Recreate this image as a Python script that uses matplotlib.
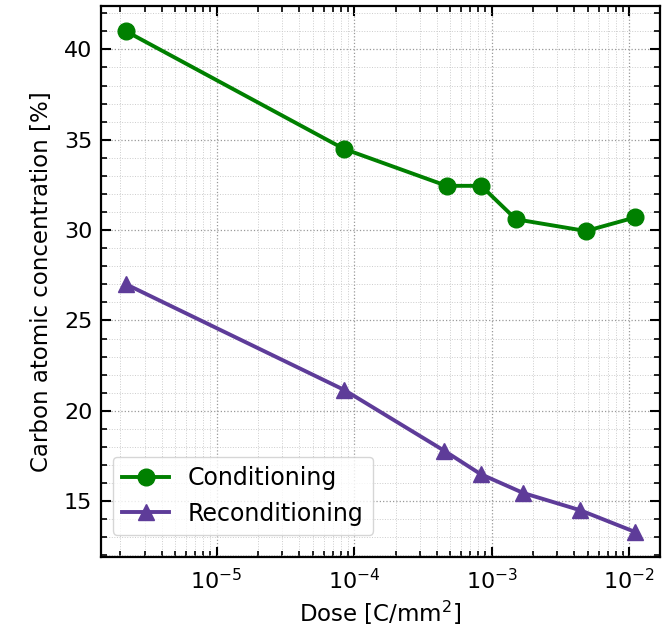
import matplotlib
matplotlib.use('Agg')
from matplotlib import pyplot as plt
import numpy as np

# Conditioning
dose_cond = [2.2e-6, 8.4e-5, 4.7e-4, 8.4e-4, 1.5e-3, 4.85e-3, 1.1e-2]
carbon_cond = [41.0, 34.5, 32.45, 32.45, 30.6, 29.95, 30.7]

# Reconditioning
dose_recond = [2.2e-6, 8.5e-5, 4.5e-4, 8.3e-4, 1.7e-3, 4.4e-3, 1.1e-2]
carbon_recond = [27.0, 21.15, 17.8, 16.5, 15.45, 14.5, 13.3]

plt.rcParams['font.size'] = 16

fig = plt.figure(figsize=(6.67, 6.3), dpi=100)
ax = fig.add_axes([0.151, 0.116, 0.839, 0.874])

ax.plot(dose_cond, carbon_cond, '-o', color='green', lw=2.8, ms=12, label='Conditioning')
ax.plot(dose_recond, carbon_recond, '-^', color='#5e3c99', lw=2.8, ms=12, label='Reconditioning')

ax.set_xscale('log')
ax.set_xlabel('Dose [C/mm$^2$]', fontsize=16.5)
ax.set_ylabel('Carbon atomic concentration [%]', fontsize=16.5, labelpad=8)

ax.yaxis.set_major_locator(plt.MultipleLocator(5))
ax.yaxis.set_minor_locator(plt.MultipleLocator(1))

ax.tick_params(which='both', direction='in', top=True, right=True)
ax.tick_params(which='major', length=7, width=1.5)
ax.tick_params(which='minor', length=4, width=1.2)
ax.tick_params(axis='x', which='major', pad=8)
ax.tick_params(axis='y', which='major', pad=6)
for s in ax.spines.values():
    s.set_linewidth(1.6)

ax.grid(which='major', ls=':', color='0.6', lw=0.9)
ax.grid(which='minor', ls=':', color='0.8', lw=0.7)

ax.legend(loc='lower left', fontsize=17, labelspacing=0.5,
          bbox_to_anchor=(0.0, 0.018))

fig.savefig('out.png', dpi=100)
